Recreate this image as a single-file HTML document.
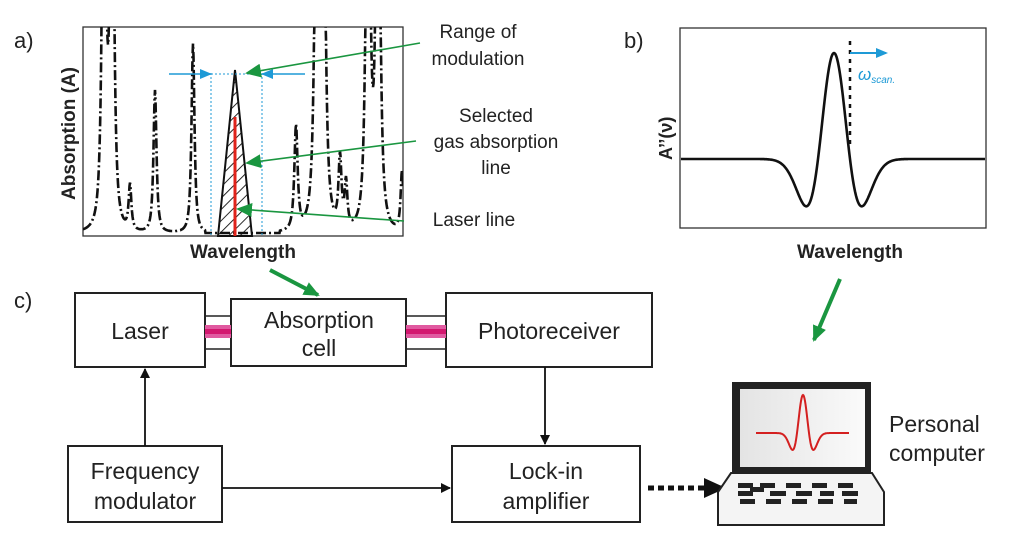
<!DOCTYPE html>
<html><head><meta charset="utf-8"><style>
html,body{margin:0;padding:0;background:#fff;width:1024px;height:553px;overflow:hidden}
svg{display:block}
text{font-family:"Liberation Sans",Arial,sans-serif;fill:#222}
</style></head><body>
<svg id="s" width="1024" height="553" viewBox="0 0 1024 553" xmlns="http://www.w3.org/2000/svg">
<defs>
<marker id="ab" markerWidth="10" markerHeight="10" refX="9" refY="5" orient="auto" markerUnits="userSpaceOnUse"><path d="M0,0 L10,5 L0,10 z" fill="#111"/></marker>
<marker id="ag" markerWidth="16" markerHeight="14" refX="14" refY="7" orient="auto" markerUnits="userSpaceOnUse"><path d="M0,0 L16,7 L0,14 z" fill="#1a9640"/></marker>
<marker id="abl" markerWidth="12" markerHeight="10" refX="10" refY="5" orient="auto" markerUnits="userSpaceOnUse"><path d="M0,0 L12,5 L0,10 z" fill="#1e9ad6"/></marker>
<marker id="abig" markerWidth="22" markerHeight="20" refX="20" refY="10" orient="auto" markerUnits="userSpaceOnUse"><path d="M0,0 L22,10 L0,20 z" fill="#111"/></marker>
<pattern id="hatch" width="8" height="8" patternUnits="userSpaceOnUse" patternTransform="rotate(45)"><line x1="0" y1="0" x2="0" y2="8" stroke="#111" stroke-width="1.8"/></pattern>
<clipPath id="ca"><rect x="83" y="27" width="320" height="209"/></clipPath>
<linearGradient id="scr" x1="0" x2="1"><stop offset="0" stop-color="#e4e4e4"/><stop offset="1" stop-color="#fafafa"/></linearGradient>
</defs>

<text x="14" y="48" font-size="22">a)</text>
<text x="624" y="48" font-size="22">b)</text>
<text x="14" y="308" font-size="22">c)</text>

<rect x="83" y="27" width="320" height="209" fill="none" stroke="#333" stroke-width="1.3"/>
<path id="spec" d="" fill="none" stroke="#111" stroke-width="2.6" stroke-dasharray="10,3,2,3" clip-path="url(#ca)"/>
<polygon points="218,236 235,70 252,236" fill="url(#hatch)" stroke="#111" stroke-width="2"/>
<line x1="235" y1="117" x2="235" y2="236" stroke="#e0231b" stroke-width="3"/>
<line x1="211" y1="73" x2="211" y2="236" stroke="#1e9ad6" stroke-width="1" stroke-dasharray="2,2"/>
<line x1="262" y1="73" x2="262" y2="236" stroke="#1e9ad6" stroke-width="1" stroke-dasharray="2,2"/>
<line x1="211" y1="74" x2="262" y2="74" stroke="#1e9ad6" stroke-width="1" stroke-dasharray="2,2"/>
<line x1="169" y1="74" x2="210" y2="74" stroke="#1e9ad6" stroke-width="1.5" marker-end="url(#abl)"/>
<line x1="305" y1="74" x2="263" y2="74" stroke="#1e9ad6" stroke-width="1.5" marker-end="url(#abl)"/>
<line x1="420" y1="43" x2="247" y2="73" stroke="#1a9640" stroke-width="1.6" marker-end="url(#ag)"/>
<line x1="416" y1="141" x2="247" y2="163" stroke="#1a9640" stroke-width="1.6" marker-end="url(#ag)"/>
<line x1="404" y1="221" x2="238" y2="209" stroke="#1a9640" stroke-width="1.6" marker-end="url(#ag)"/>
<text x="0" y="0" font-size="19" font-weight="bold" transform="translate(75,200) rotate(-90)">Absorption (A)</text>
<text x="243" y="258" font-size="19" font-weight="bold" text-anchor="middle">Wavelength</text>
<g font-size="19" text-anchor="middle">
<text x="478" y="38">Range of</text><text x="478" y="65">modulation</text>
<text x="496" y="122">Selected</text><text x="496" y="148">gas absorption</text><text x="496" y="174">line</text>
<text x="474" y="226">Laser line</text>
</g>

<rect x="680" y="28" width="306" height="200" fill="none" stroke="#333" stroke-width="1.3"/>
<path id="d2" d="" fill="none" stroke="#111" stroke-width="2.6"/>
<line x1="850" y1="41" x2="850" y2="145" stroke="#111" stroke-width="2.5" stroke-dasharray="4,5"/>
<line x1="850" y1="53" x2="886" y2="53" stroke="#1e9ad6" stroke-width="2" marker-end="url(#abl)"/>
<text x="858" y="80" font-size="17" font-style="italic" style="fill:#1e9ad6">ω<tspan font-size="10" dy="3">scan.</tspan></text>
<text x="0" y="0" font-size="18" font-weight="bold" transform="translate(672,160) rotate(-90)">A’’(ν)</text>
<text x="850" y="258" font-size="19" font-weight="bold" text-anchor="middle">Wavelength</text>

<line x1="270" y1="270" x2="318" y2="295" stroke="#1a9640" stroke-width="4" marker-end="url(#ag)"/>
<line x1="840" y1="279" x2="814" y2="340" stroke="#1a9640" stroke-width="4" marker-end="url(#ag)"/>

<g fill="#fff" stroke="#222" stroke-width="2">
<rect x="75" y="293" width="130" height="74"/>
<rect x="231" y="299" width="175" height="67"/>
<rect x="446" y="293" width="206" height="74"/>
<rect x="68" y="446" width="154" height="76"/>
<rect x="452" y="446" width="188" height="76"/>
</g>
<g>
<rect x="205" y="325" width="26" height="13" fill="#e05aa0"/>
<rect x="205" y="329" width="26" height="5" fill="#d3176f"/>
<rect x="406" y="325" width="40" height="13" fill="#e05aa0"/>
<rect x="406" y="329" width="40" height="5" fill="#d3176f"/>
<g stroke="#222" stroke-width="1.5"><line x1="205" y1="316" x2="231" y2="316"/><line x1="205" y1="349" x2="231" y2="349"/><line x1="406" y1="316" x2="446" y2="316"/><line x1="406" y1="349" x2="446" y2="349"/></g>
</g>
<g font-size="23" text-anchor="middle">
<text x="140" y="339">Laser</text>
<text x="319" y="328">Absorption</text><text x="319" y="356">cell</text>
<text x="549" y="339">Photoreceiver</text>
<text x="145" y="479">Frequency</text><text x="145" y="509">modulator</text>
<text x="546" y="479">Lock-in</text><text x="546" y="509">amplifier</text>
</g>
<g stroke="#111" stroke-width="1.8">
<line x1="145" y1="446" x2="145" y2="369" marker-end="url(#ab)"/>
<line x1="545" y1="367" x2="545" y2="444" marker-end="url(#ab)"/>
<line x1="222" y1="488" x2="450" y2="488" marker-end="url(#ab)"/>
<line x1="648" y1="488" x2="724" y2="488" stroke-width="5" stroke-dasharray="6,4" marker-end="url(#abig)"/>
</g>

<rect x="732" y="382" width="139" height="90" fill="#222"/>
<rect x="740" y="389" width="125" height="78" fill="url(#scr)"/>
<path id="mini" d="" fill="none" stroke="#d42020" stroke-width="2"/>
<path d="M731,473 L872,473 L884,492 L884,525 L718,525 L718,492 Z" fill="#f4f4f4" stroke="#222" stroke-width="2"/>
<g fill="#222">
<rect x="738" y="483" width="15" height="5"/><rect x="760" y="483" width="15" height="5"/><rect x="786" y="483" width="15" height="5"/><rect x="812" y="483" width="15" height="5"/><rect x="838" y="483" width="15" height="5"/>
<rect x="738" y="491" width="15" height="5"/><rect x="750" y="487" width="14" height="5"/><rect x="770" y="491" width="16" height="5"/><rect x="796" y="491" width="16" height="5"/><rect x="820" y="491" width="14" height="5"/><rect x="842" y="491" width="16" height="5"/>
<rect x="740" y="499" width="15" height="5"/><rect x="766" y="499" width="15" height="5"/><rect x="792" y="499" width="15" height="5"/><rect x="818" y="499" width="15" height="5"/><rect x="844" y="499" width="13" height="5"/>
</g>
<text x="889" y="432" font-size="23">Personal</text>
<text x="889" y="461" font-size="23">computer</text>
</svg>
<script>
(function(){
 var peaks=[[104,500,2.3],[112,500,2.3],[130,45,1.8],[155,142,2],[193,189,2],[296,104,2.2],[317,500,2.5],[323,500,2.5],[340,70,2],[346,45,1.8],[368,500,2.5],[378,500,2.5],[402,60,1.8]];
 var d="";
 for(var x=83;x<=403;x+=0.5){
  var y=0;for(var i=0;i<peaks.length;i++){var p=peaks[i];var u=(x-p[0])/p[2];y+=p[1]/Math.pow(1+u*u,1.2);}
  var yy=233-y; if(x>205&&x<280) yy=233;
  d+=(d?"L":"M")+x.toFixed(1)+","+Math.max(yy,20).toFixed(1);
 }
 document.getElementById("spec").setAttribute("d",d);
 function dd(cx,base,A,s,x0,x1){var r="";for(var x=x0;x<=x1;x+=0.5){var u=(x-cx)/s;var f=(1-u*u)*Math.exp(-u*u/2);r+=(r?"L":"M")+x+","+(base-A*f).toFixed(1);}return r;}
 document.getElementById("d2").setAttribute("d",dd(834,159,106,16,681,985));
 document.getElementById("mini").setAttribute("d",dd(803,433,38,6,756,849));
})();
</script>
</body></html>
